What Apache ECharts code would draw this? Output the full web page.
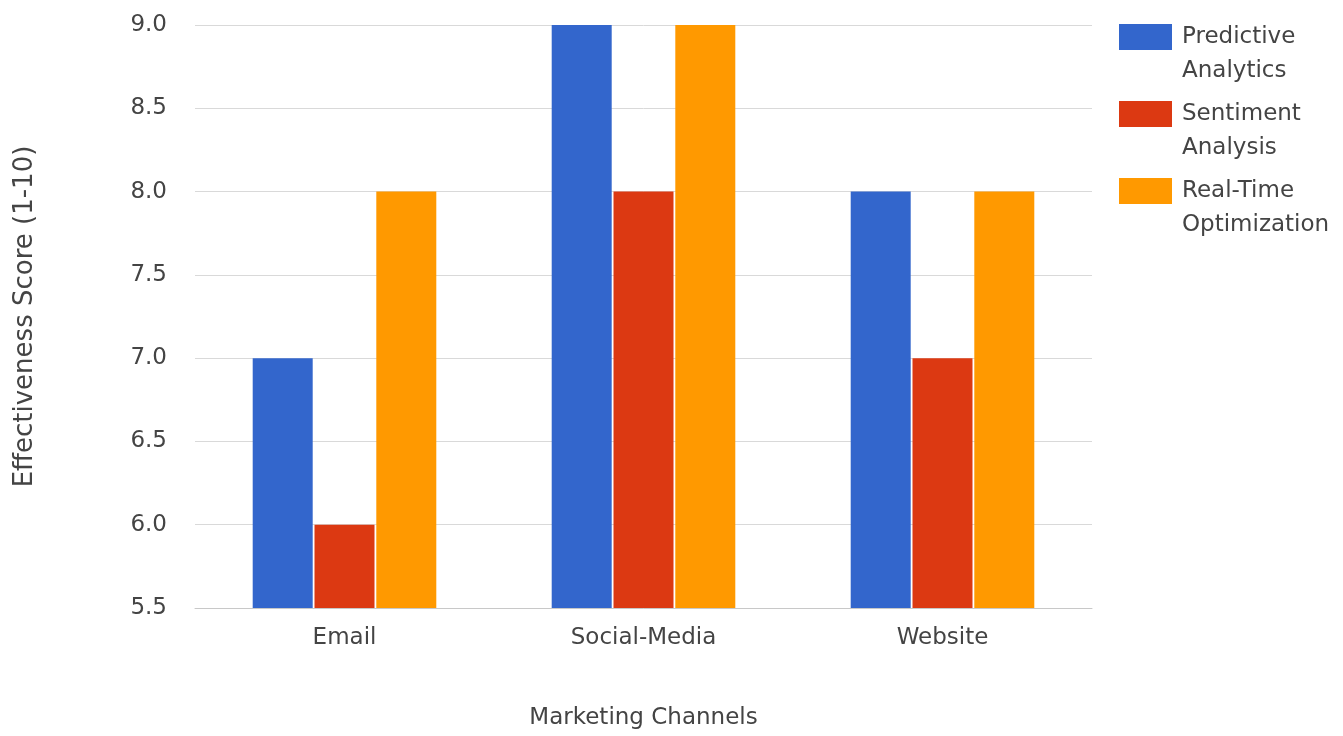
<!DOCTYPE html>
<html>
<head>
<meta charset="utf-8">
<script src="https://cdn.jsdelivr.net/npm/echarts@6/dist/echarts.min.js"></script>
<style>
  html, body { margin: 0; padding: 0; background: #fff; }
  #chart { width: 1343px; height: 736px; }
</style>
</head>
<body>
<div id="chart"></div>
<script>
'use strict';

const channels = ['Email', 'Social-Media', 'Website']
const seriesNames = ['Predictive Analytics', 'Sentiment Analysis', 'Real-Time Optimization']
const predictive = [7, 9, 8]
const sentiment = [6, 8, 7]
const realTime = [8, 9, 8]
const colors = ['#3366cc', '#dc3912', '#ff9900']

const FONT = 'DejaVu Sans'
const TEXT = '#444'

const myChart = echarts.init(document.getElementById('chart'))

// legend text wraps at the first space; a blank line on top keeps
// the first word level with the colour box
const wrap = name => {
    const i = name.indexOf(' ')
    const body = i < 0 ? name : name.slice(0, i) + '\n' + name.slice(i + 1)
    return ' \n' + body
}

const series = [predictive, sentiment, realTime].map((data, i) => {
    return {
        name: seriesNames[i],
        type: 'bar',
        data: data,
        barWidth: 60,
        barGap: '3%',
        itemStyle: { color: colors[i] }
    }
})

const option = {
    textStyle: { fontFamily: FONT },
    animation: false,
    legend: {
        orient: 'vertical',
        left: 1119,
        top: -17,
        padding: 0,
        itemWidth: 53,
        itemHeight: 26,
        itemGap: -31,
        icon: 'rect',
        formatter: wrap,
        textStyle: {
            fontFamily: FONT,
            fontSize: 23,
            color: TEXT,
            lineHeight: 34,
            padding: [6, 0, 0, 5]
        }
    },
    grid: {
        left: 195,
        right: 251,
        top: 25,
        bottom: 128
    },
    xAxis: {
        type: 'category',
        data: channels,
        name: 'Marketing Channels',
        nameLocation: 'middle',
        nameGap: 99,
        nameTextStyle: { fontFamily: FONT, fontSize: 23, color: TEXT },
        axisLine: { lineStyle: { color: '#c8c8c8' } },
        axisTick: { show: false },
        axisLabel: { fontFamily: FONT, fontSize: 23, color: TEXT, margin: 19 }
    },
    yAxis: {
        type: 'value',
        min: 5.5,
        max: 9,
        interval: 0.5,
        name: 'Effectiveness Score (1-10)',
        nameLocation: 'middle',
        nameGap: 157,
        nameTextStyle: { fontFamily: FONT, fontSize: 26, color: TEXT },
        axisLine: { show: false },
        axisTick: { show: false },
        axisLabel: {
            fontFamily: FONT,
            fontSize: 23,
            color: TEXT,
            margin: 28,
            formatter: v => v.toFixed(1)
        },
        splitLine: { lineStyle: { color: '#d9d9d9', width: 1 } }
    },
    series: series
}

myChart.setOption(option)
</script>
</body>
</html>
